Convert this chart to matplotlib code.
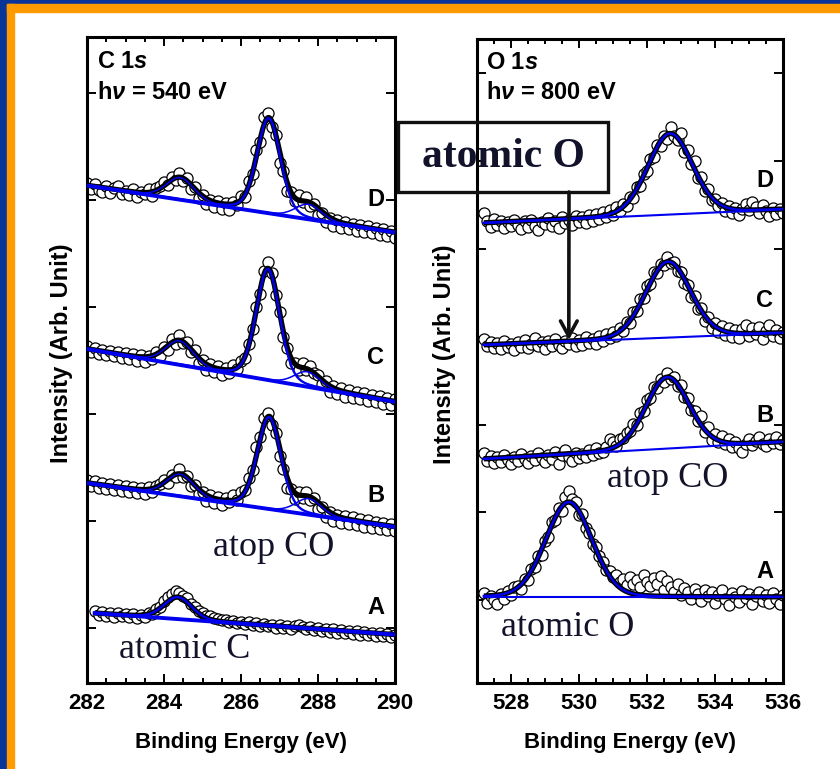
import numpy as np
import matplotlib
matplotlib.use("Agg")
import matplotlib.pyplot as plt
from matplotlib.patches import Rectangle
from matplotlib.ticker import MultipleLocator

plt.rcParams['font.family'] = ['Liberation Sans', 'DejaVu Sans']
plt.rcParams['font.weight'] = 'bold'
plt.rcParams['mathtext.fontset'] = 'custom'
plt.rcParams['mathtext.rm'] = 'Liberation Sans:bold'
plt.rcParams['mathtext.bf'] = 'Liberation Sans:bold'
plt.rcParams['mathtext.it'] = 'Liberation Sans:bold:italic'

# ---------------- C 1s, hv = 540 eV ----------------
c1s_energy = np.round(np.arange(282.0, 290.001, 0.1), 2)
c1s_energy_A = c1s_energy[2:]

c1s_D = [500, 494, 499, 493, 491, 497, 490, 495, 497, 489,
         492, 488, 494, 486, 491, 489, 494, 487, 495, 497,
         501, 498, 506, 503, 510, 502, 505, 494, 496, 485,
         488, 479, 483, 476, 482, 474, 480, 473, 481, 478,
         487, 486, 502, 509, 533, 541, 566, 570, 556, 548,
         520, 512, 492, 491, 482, 488, 481, 486, 477, 479,
         468, 470, 461, 465, 457, 463, 455, 461, 454, 459,
         452, 458, 451, 457, 450, 455, 448, 454, 447, 452,
         445]
c1s_C = [337, 331, 335, 329, 333, 328, 332, 327, 331, 325,
         330, 324, 329, 322, 328, 321, 327, 324, 331, 327,
         336, 333, 344, 339, 348, 340, 341, 331, 333, 320,
         323, 313, 319, 311, 317, 308, 315, 310, 318, 314,
         322, 325, 339, 354, 376, 389, 412, 421, 410, 388,
         371, 346, 335, 320, 320, 313, 320, 313, 317, 310,
         308, 299, 302, 291, 297, 289, 295, 286, 293, 285,
         291, 284, 290, 282, 288, 281, 287, 279, 285, 278,
         284]
c1s_B = [203, 197, 202, 195, 200, 194, 199, 193, 198, 192,
         197, 191, 196, 190, 195, 189, 196, 191, 197, 199,
         203, 200, 208, 206, 214, 206, 207, 197, 198, 189,
         191, 182, 188, 180, 186, 178, 185, 181, 188, 183,
         191, 193, 205, 213, 236, 246, 265, 270, 258, 250,
         227, 214, 195, 194, 184, 191, 185, 191, 183, 185,
         174, 176, 166, 171, 162, 168, 160, 167, 159, 166,
         158, 164, 156, 163, 155, 161, 154, 160, 153, 159,
         152]
c1s_A = [72, 68, 71, 67, 70, 66, 70, 67, 69, 66,
         69, 65, 68, 66, 70, 69, 74, 76, 82, 86,
         89, 92, 90, 87, 85, 79, 76, 72, 70, 67,
         67, 65, 64, 63, 63, 61, 62, 60, 61, 59,
         61, 58, 60, 57, 59, 57, 58, 55, 58, 55,
         57, 54, 57, 58, 56, 54, 56, 53, 55, 52,
         54, 51, 54, 50, 53, 50, 52, 49, 52, 48,
         51, 48, 50, 47, 50, 47, 49, 46, 48]

# fitted backgrounds (value at 282 eV, value at 290 eV) and peaks (centre, height, FWHM)
c1s_bg_D = [497.5, 450.5]
c1s_bg_C = [334.0, 281.2]
c1s_bg_B = [200.0, 156.0]
c1s_bg_A = [70.4, 48.4]
c1s_peaks_D = [(284.42, 22, 0.85), (286.72, 95, 0.72), (287.75, 15, 0.80)]
c1s_peaks_C = [(284.40, 24, 0.85), (286.70, 111, 0.72), (287.72, 15, 0.80)]
c1s_peaks_B = [(284.42, 22, 0.85), (286.73, 92, 0.72), (287.76, 16, 0.80)]
c1s_peaks_A = [(284.36, 22, 0.85)]

# ---------------- O 1s, hv = 800 eV ----------------
o1s_energy = np.round(np.arange(527.2, 536.001, 0.1), 2)

o1s_D = [470, 462, 456, 464, 458, 462, 455, 461, 457, 463,
         458, 454, 462, 456, 463, 457, 453, 461, 459, 465,
         457, 462, 455, 466, 460, 463, 458, 467, 461, 466,
         460, 468, 462, 469, 464, 471, 466, 473, 468, 476,
         472, 479, 477, 486, 485, 496, 497, 509, 512, 524,
         526, 538, 537, 547, 544, 556, 547, 543, 550, 531,
         533, 519, 522, 505, 506, 492, 494, 483, 484, 477,
         480, 472, 477, 470, 475, 468, 474, 479, 473, 481,
         476, 470, 478, 472, 467, 475, 469, 474, 470]
o1s_C = [344, 337, 341, 335, 340, 334, 342, 336, 339, 333,
         341, 336, 343, 335, 339, 345, 337, 341, 334, 342,
         337, 344, 338, 335, 342, 339, 345, 337, 343, 338,
         346, 340, 344, 339, 347, 342, 349, 345, 351, 347,
         355, 352, 361, 360, 371, 372, 384, 385, 397, 399,
         411, 410, 419, 418, 426, 420, 421, 412, 411, 400,
         398, 386, 387, 374, 375, 362, 366, 355, 360, 351,
         357, 348, 355, 346, 353, 345, 354, 358, 347, 355,
         349, 356, 344, 352, 358, 347, 353, 345, 351]
o1s_B = [230, 222, 227, 220, 226, 221, 228, 223, 219, 226,
         222, 229, 224, 220, 227, 223, 230, 225, 221, 228,
         224, 231, 219, 228, 233, 226, 222, 230, 225, 229,
         226, 233, 228, 235, 230, 231, 236, 244, 241, 237,
         244, 245, 250, 252, 259, 258, 270, 272, 283, 285,
         296, 295, 304, 301, 310, 304, 306, 297, 298, 286,
         285, 273, 272, 262, 267, 251, 256, 243, 249, 241,
         247, 239, 244, 236, 241, 235, 231, 239, 244, 238,
         242, 246, 239, 237, 244, 240, 246, 239, 243]
o1s_A = [90, 80, 87, 83, 79, 89, 84, 92, 88, 96,
         97, 94, 104, 103, 114, 116, 127, 128, 142, 146,
         161, 163, 175, 172, 186, 192, 184, 181, 168, 169,
         155, 150, 139, 136, 127, 121, 113, 112, 106, 108,
         101, 104, 98, 106, 99, 103, 96, 108, 101, 97,
         105, 99, 107, 93, 102, 96, 91, 99, 88, 95,
         91, 84, 94, 89, 82, 93, 87, 91, 80, 88,
         93, 84, 78, 90, 86, 81, 92, 85, 89, 79,
         87, 91, 82, 88, 80, 90, 84, 79, 88]

# backgrounds (value at 527.2 eV, value at 536.0 eV) and peaks (centre, height, FWHM)
o1s_bg_D = [460.0, 473.6]
o1s_bg_C = [338.0, 350.0]
o1s_bg_B = [224.0, 241.0]
o1s_bg_A = [86.0, 86.0]
o1s_peaks_D = [(532.68, 81, 1.55)]
o1s_peaks_C = [(532.62, 76, 1.55)]
o1s_peaks_B = [(532.60, 71.5, 1.50)]
o1s_peaks_A = [(529.70, 95, 1.60)]

spectrum_labels = ['D', 'C', 'B', 'A']

BLUE = '#0000ee'
TEXT_NAVY = '#12122a'


def pseudo_voigt(e, centre, height, fwhm, eta):
    d2 = 4.0 * (e - centre) ** 2 / fwhm ** 2
    return height * ((1 - eta) * np.exp(-np.log(2) * d2) + eta / (1 + d2))


def draw_spectrum(ax, energy, counts, bg_ends, bg_range, peaks, eta, bg_lw):
    ax.plot(energy, counts, 'o', ms=8.0, mfc='white', mec='black', mew=0.9,
            zorder=2)
    e = np.linspace(energy[0], energy[-1], 500)
    bg = np.interp(e, bg_range, bg_ends)
    comps = [pseudo_voigt(e, *p, eta) for p in peaks]
    total = bg + np.sum(comps, axis=0)
    ax.plot(e, total, color='black', lw=3.8, zorder=3, solid_capstyle='butt')
    ax.plot(e, bg, color=BLUE, lw=bg_lw, zorder=4)
    for comp in comps:
        main = comp.max() >= 0.5 * max(c.max() for c in comps)
        ax.plot(e, bg + comp, color=BLUE, lw=1.7 if main else 1.1, zorder=5)


def style_axis(ax, xlim, ylim, yticks):
    ax.set_xlim(*xlim)
    ax.set_ylim(*ylim)
    ax.xaxis.set_major_locator(MultipleLocator(2))
    ax.xaxis.set_minor_locator(MultipleLocator(0.5))
    ax.set_yticks(yticks)
    ax.set_yticklabels([])
    ax.tick_params(which='both', direction='in', top=True, right=True,
                   width=1.4, labelsize=16)
    ax.tick_params(which='major', length=6.5, pad=7)
    ax.tick_params(which='minor', length=3.5)
    for lab in ax.get_xticklabels():
        lab.set_fontweight('bold')
    for sp in ax.spines.values():
        sp.set_linewidth(2.2)
    ax.set_xlabel('Binding Energy (eV)', fontsize=16, fontweight='bold',
                  labelpad=13)


fig = plt.figure(figsize=(8.4, 7.69), dpi=100)
W, H = 840.0, 769.0

# slide frame
fig.patches.append(Rectangle((0, 1 - 4 / H), 1, 4 / H, transform=fig.transFigure,
                             color='#0a3598', zorder=0))
fig.patches.append(Rectangle((0, 0), 7 / W, 1, transform=fig.transFigure,
                             color='#0a3598', zorder=0))
fig.patches.append(Rectangle((7 / W, 1 - 12 / H), 1, 8 / H,
                             transform=fig.transFigure, color='#ff9a00', zorder=0))
fig.patches.append(Rectangle((7 / W, 0), 7 / W, 1 - 4 / H,
                             transform=fig.transFigure, color='#ff9a00', zorder=0))

ax_c = fig.add_axes([87 / W, 1 - 683 / H, 308 / W, 646 / H])
ax_o = fig.add_axes([477 / W, 1 - 683 / H, 306 / W, 644 / H])

# ---- C 1s panel ----
c_sets = [(c1s_energy, c1s_D, c1s_bg_D, c1s_peaks_D),
          (c1s_energy, c1s_C, c1s_bg_C, c1s_peaks_C),
          (c1s_energy, c1s_B, c1s_bg_B, c1s_peaks_B),
          (c1s_energy_A, c1s_A, c1s_bg_A, c1s_peaks_A)]
for energy, counts, bg_ends, peaks in c_sets:
    draw_spectrum(ax_c, energy, counts, bg_ends, [282.0, 290.0], peaks, 0.2, 2.8)
style_axis(ax_c, (282, 290), (0, 646), [55, 162, 269, 376, 483, 590])
ax_c.set_ylabel('Intensity (Arb. Unit)', fontsize=17, fontweight='bold')
ax_c.yaxis.set_label_coords(-0.045, 0.51)

ax_c.text(0.032, 0.962, r'C 1$s$', transform=ax_c.transAxes, fontsize=17,
          fontweight='bold', va='center', ha='left')
ax_c.text(0.032, 0.914, r'h$\nu$ = 540 eV', transform=ax_c.transAxes, fontsize=17,
          fontweight='bold', va='center', ha='left')
for lab, yv in zip(spectrum_labels, [483, 326, 188, 75]):
    ax_c.text(289.5, yv, lab, fontsize=17, fontweight='bold', ha='center', va='center')
ax_c.text(286.85, 136, 'atop CO', family='Liberation Serif', fontweight='normal',
          fontsize=26, color=TEXT_NAVY, ha='center', va='center')
ax_c.text(284.55, 33, 'atomic C', family='Liberation Serif', fontweight='normal',
          fontsize=26, color=TEXT_NAVY, ha='center', va='center')

# ---- O 1s panel ----
o_sets = [(o1s_D, o1s_bg_D, o1s_peaks_D),
          (o1s_C, o1s_bg_C, o1s_peaks_C),
          (o1s_B, o1s_bg_B, o1s_peaks_B),
          (o1s_A, o1s_bg_A, o1s_peaks_A)]
for counts, bg_ends, peaks in o_sets:
    draw_spectrum(ax_o, o1s_energy, counts, bg_ends, [527.2, 536.0], peaks, 0.1, 1.5)
style_axis(ax_o, (527.0, 536.0), (0, 644), [83, 171, 258, 346, 434, 522, 610])
ax_o.set_ylabel('Intensity (Arb. Unit)', fontsize=17, fontweight='bold')
ax_o.yaxis.set_label_coords(-0.07, 0.51)

ax_o.text(0.03, 0.964, r'O 1$s$', transform=ax_o.transAxes, fontsize=17,
          fontweight='bold', va='center', ha='left')
ax_o.text(0.03, 0.917, r'h$\nu$ = 800 eV', transform=ax_o.transAxes, fontsize=17,
          fontweight='bold', va='center', ha='left')
for lab, yv in zip(spectrum_labels, [503, 383, 268, 111]):
    ax_o.text(535.47, yv, lab, fontsize=17, fontweight='bold', ha='center', va='center')
ax_o.text(532.62, 205, 'atop CO', family='Liberation Serif', fontweight='normal',
          fontsize=26, color=TEXT_NAVY, ha='center', va='center')
ax_o.text(529.68, 55, 'atomic O', family='Liberation Serif', fontweight='normal',
          fontsize=26, color=TEXT_NAVY, ha='center', va='center')

# callout box with arrow to the atomic O position on spectrum C
fig.patches.append(Rectangle((398 / W, 1 - 192 / H), 210 / W, 70 / H,
                             transform=fig.transFigure, fill=False,
                             edgecolor='#111', lw=2.4, zorder=10))
fig.text(503 / W, 1 - 157 / H, 'atomic O', family='Liberation Serif',
         fontweight='bold', fontsize=30, color=TEXT_NAVY, ha='center',
         va='center', zorder=11)
ax_o.annotate('', xy=(529.7, 343), xycoords='data',
              xytext=(569, 769 - 192), textcoords='figure pixels',
              arrowprops=dict(arrowstyle='->,head_length=1.1,head_width=0.6',
                              color='#111', lw=2.6, shrinkA=0, shrinkB=0),
              annotation_clip=False, zorder=10)

fig.savefig('out.png', dpi=100)
